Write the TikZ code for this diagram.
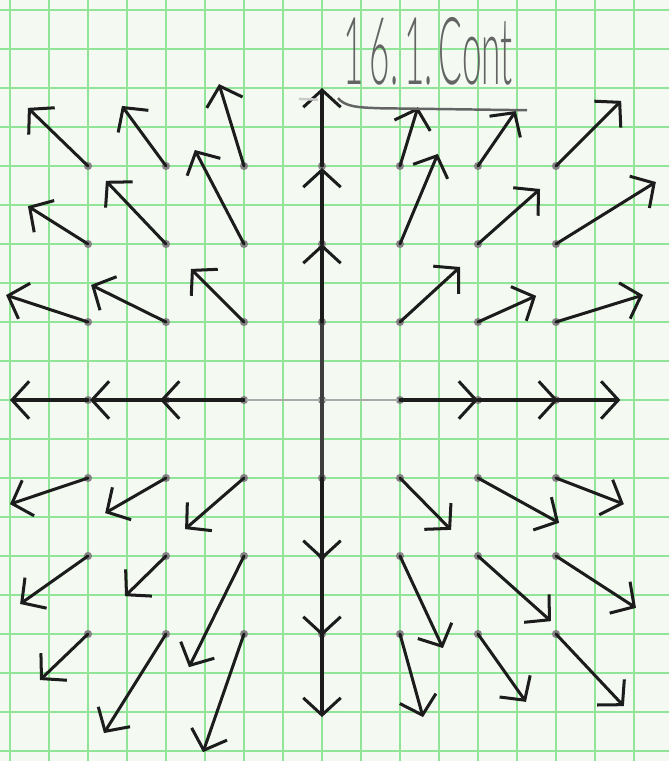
\documentclass[tikz,border=0pt]{standalone}
\usepackage{graphicx}
\usepackage{fontspec}
\newfontfamily\handfont{Lato Light}
\usetikzlibrary{arrows.meta}
\definecolor{paper}{RGB}{244,250,242}
\definecolor{gridgreen}{RGB}{145,228,152}
\definecolor{pencil}{RGB}{100,100,100}
\definecolor{ink}{RGB}{28,28,28}
\begin{document}
\begin{tikzpicture}[x=0.5cm,y=0.5cm,
  vec/.style={ink, line width=1.1pt, line cap=round, line join=round,
    -{Straight Barb[length=2.2mm,width=4.8mm]}},
  gridline/.style={gridgreen, line width=1.05pt},
  dot/.style={circle, fill=pencil!80, inner sep=0pt, minimum size=1.05mm}]
\fill[paper] (-8.256,-9.256) rectangle (8.897,10.256);
\useasboundingbox (-8.256,-9.256) rectangle (8.897,10.256);
% graph paper
\foreach \x in {-8,...,8} \draw[gridline] (\x,-9.256) -- (\x,10.256);
\foreach \y in {-9,...,10} \draw[gridline] (-8.256,\y) -- (8.897,\y);
% grid points
\foreach \a in {0,...,6} \foreach \b in {0,...,6}
  \node[dot] (d\a\b) at ({2*\a-6},{2*\b-6}) {};
% axes (pencil / ink between the vectors)
\draw[pencil!55, line width=0.9pt] (d23.center) -- (d43.center);
\draw[ink!85, line width=1.1pt] (d32.center) -- (d34.center);
% vectors
\foreach \n/\tx/\ty in {
  06/-7.54/7.49, 16/-5.13/7.54, 26/-2.64/8.10, 46/2.46/7.51, 56/4.97/7.41, 66/7.67/7.67,
  05/-7.54/4.97, 15/-5.54/5.62, 25/-3.26/6.41, 45/2.97/6.31, 55/5.59/5.41, 65/8.56/5.59,
  04/-8.10/2.69, 14/-5.92/2.95, 24/-3.36/3.36, 44/3.54/3.41, 54/5.49/2.67, 64/8.23/2.69,
  02/-8.0/-2.67, 12/-5.56/-2.90, 22/-3.51/-3.31, 42/3.31/-3.33, 52/6.08/-3.15, 62/7.74/-2.67,
  01/-7.74/-5.23, 11/-5.05/-5.03, 21/-3.41/-6.85, 41/3.10/-6.36, 51/5.87/-5.67, 61/8.05/-5.33,
  00/-7.23/-7.18, 10/-5.59/-8.54, 20/-3.05/-9.03, 40/2.59/-8.13, 50/5.23/-7.74, 60/7.74/-7.85,
  36/0/8.0, 35/0/5.95, 34/0/4.0, 32/0/-4.1, 31/0/-6.05, 30/0/-8.13,
  23/-4.15/0, 13/-5.95/0, 03/-8.0/0, 43/4.0/0, 53/6.05/0, 63/7.65/0}
{
  \coordinate (t\n) at (\tx,\ty);
  \draw[vec] (d\n.center) -- (t\n);
}
% title
\node[pencil, anchor=base west, inner sep=0pt] (title) at (0.54,8.08)
  {\resizebox{2.17cm}{0.86cm}{\handfont 1\,6.\,1.\,Cont}};
\draw[pencil, line width=0.9pt] (0.41,7.74) .. controls (0.6,7.52) and (0.9,7.5) .. (1.5,7.48) -- (5.26,7.43);
\draw[pencil!35, line width=0.9pt] (-0.59,7.72) -- (-0.1,7.7);
\end{tikzpicture}
\end{document}
